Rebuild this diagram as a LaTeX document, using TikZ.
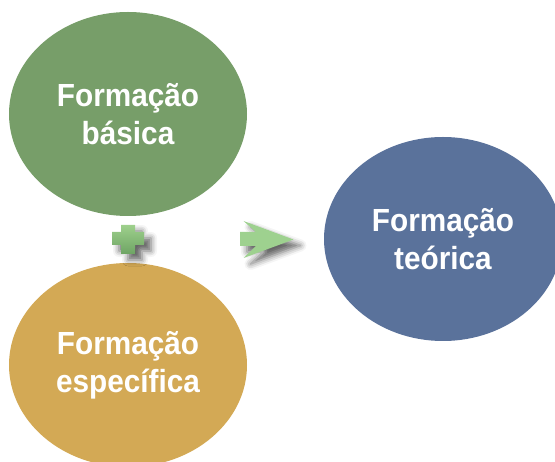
\documentclass[tikz,border=0pt]{standalone}
\usepackage{fontspec}
\setmainfont{Liberation Sans}[FakeStretch=0.93]
\usetikzlibrary{shapes.geometric,shadows.blur}
\definecolor{cgreen}{RGB}{119,158,105}
\definecolor{corange}{RGB}{211,169,85}
\definecolor{cblue}{RGB}{90,114,155}
\definecolor{plustop}{RGB}{158,208,140}
\definecolor{plusbot}{RGB}{110,164,100}
\definecolor{arrowfill}{RGB}{158,209,143}
\begin{document}
\begin{tikzpicture}[x=1pt,y=-1pt,
  bubble/.style={ellipse, minimum width=238pt, minimum height=204pt, inner sep=0pt,
    align=center, text=white, font=\fontsize{32}{38}\selectfont\bfseries},
  softshadow/.style={blur shadow={shadow xshift=7pt, shadow yshift=-6pt,
    shadow blur radius=6pt, shadow opacity=60}}]
\useasboundingbox (0,0) rectangle (555,462);
\node[bubble, fill=cgreen] (basica) at (128,114) {Formação\\básica};
\node[bubble, fill=corange] (especifica) at (128,365) {Formação\\específica};
\node[bubble, fill=cblue] (teorica) at (443,239) {Formação\\teórica};
% plus sign
\path[softshadow, top color=plustop, bottom color=plusbot]
  (121,225) -- (135,225) -- (135,232) -- (144,232) -- (144,245) -- (135,245)
  -- (135,254) -- (121,254) -- (121,245) -- (112,245) -- (112,232) -- (121,232) -- cycle;
% arrow
\path[softshadow, fill=arrowfill]
  (240,232) -- (256,232) -- (243.5,221) -- (293.5,239.5) -- (243.5,258)
  -- (256,246) -- (240,246) -- cycle;
\end{tikzpicture}
\end{document}
